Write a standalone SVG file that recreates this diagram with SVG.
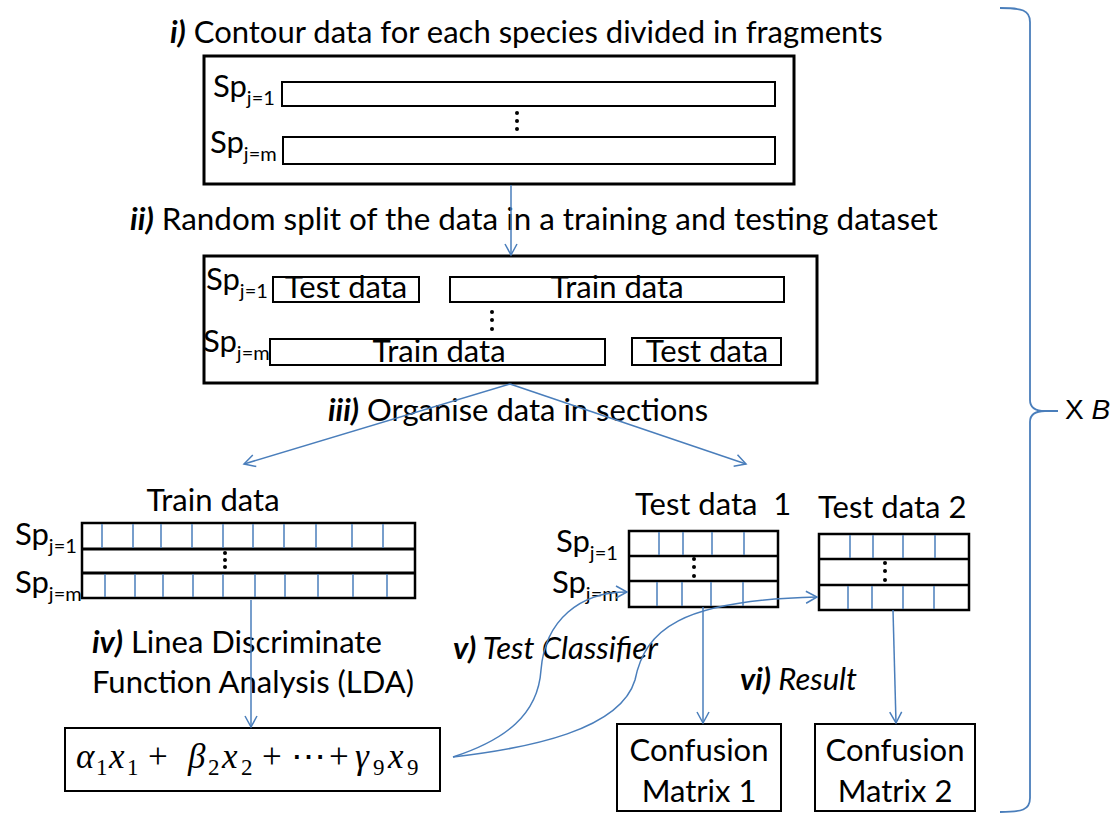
<svg xmlns="http://www.w3.org/2000/svg" width="1117" height="819" viewBox="0 0 1117 819">
<style>
.t{font-family:Lato,"Liberation Sans",sans-serif;font-size:31px;fill:#000}
.s{font-size:20px}
.bi{font-weight:bold;font-style:italic}
.it{font-style:italic}
.box{fill:#fff;stroke:#000;stroke-width:3}
.bar{fill:#fff;stroke:#000;stroke-width:2}
.tb{fill:#fff;stroke:#000;stroke-width:2.5}
.cell{stroke:#4a7ebb;stroke-width:1.5}
.dot{fill:#000}
.conn{fill:none;stroke:#4a7ebb;stroke-width:1.5;marker-end:url(#arr)}
.m{font-family:"Liberation Serif","DejaVu Serif",serif;font-size:35px;fill:#000}
.ms{font-size:23px}
</style>
<defs>
<marker id="arr" viewBox="0 0 14 14" refX="12" refY="7" markerWidth="14" markerHeight="14" markerUnits="userSpaceOnUse" orient="auto">
<path d="M1,1 L12,7 L1,13" fill="none" stroke="#4a7ebb" stroke-width="1.5"/>
</marker>
</defs>
<rect width="1117" height="819" fill="#fff"/>

<g id="step1">
<text class="t" x="170" y="43"><tspan class="bi">i)</tspan> Contour data for each species divided in fragments</text>
<rect class="box" x="204" y="56" width="590" height="128"/>
<text class="t" x="213" y="97">Sp<tspan class="s" dy="8">j=1</tspan></text>
<rect class="bar" x="282" y="82" width="493" height="24"/>
<circle class="dot" cx="517" cy="113" r="2"/><circle class="dot" cx="517" cy="121" r="2"/><circle class="dot" cx="517" cy="129" r="2"/>
<text class="t" x="210" y="153">Sp<tspan class="s" dy="8">j=m</tspan></text>
<rect class="bar" x="283" y="137" width="492" height="27"/>
</g>

<g id="step2">
<text class="t" x="130" y="230" style="font-size:31.4px"><tspan class="bi">ii)</tspan> Random split of the data in a training and testing dataset</text>
<rect class="box" x="204" y="256" width="613" height="127"/>
<text class="t" x="206" y="290">Sp<tspan class="s" dy="8">j=1</tspan></text>
<rect class="bar" x="273" y="277" width="146" height="25"/>
<text class="t" x="346" y="298" text-anchor="middle">Test data</text>
<rect class="bar" x="450" y="277" width="334" height="25"/>
<text class="t" x="617" y="298" text-anchor="middle">Train data</text>
<circle class="dot" cx="492" cy="312" r="2"/><circle class="dot" cx="492" cy="320" r="2"/><circle class="dot" cx="492" cy="329" r="2"/>
<text class="t" x="203" y="352">Sp<tspan class="s" dy="8">j=m</tspan></text>
<rect class="bar" x="270" y="339" width="335" height="26"/>
<text class="t" x="439" y="362" text-anchor="middle">Train data</text>
<rect class="bar" x="632" y="338" width="149" height="27"/>
<text class="t" x="707" y="362" text-anchor="middle">Test data</text>
</g>

<g id="step3label">
<text class="t" x="328" y="421"><tspan class="bi">iii)</tspan> Organise data in sections</text>
</g>

<g id="traindata">
<text class="t" x="213" y="511" text-anchor="middle">Train data</text>
<text class="t" x="15" y="545">Sp<tspan class="s" dy="8">j=1</tspan></text>
<text class="t" x="15" y="593">Sp<tspan class="s" dy="8">j=m</tspan></text>
<rect class="tb" x="82" y="523" width="333" height="75"/>
<line x1="82" y1="549" x2="415" y2="549" stroke="#000" stroke-width="3"/>
<line x1="82" y1="573" x2="415" y2="573" stroke="#000" stroke-width="3"/>
<g class="cell">
<line x1="102" y1="524" x2="102" y2="548"/><line x1="133" y1="524" x2="133" y2="548"/><line x1="161" y1="524" x2="161" y2="548"/><line x1="192" y1="524" x2="192" y2="548"/><line x1="223" y1="524" x2="223" y2="548"/><line x1="253" y1="524" x2="253" y2="548"/><line x1="284" y1="524" x2="284" y2="548"/><line x1="316" y1="524" x2="316" y2="548"/><line x1="352" y1="524" x2="352" y2="548"/><line x1="383" y1="524" x2="383" y2="548"/>
<line x1="105" y1="574" x2="105" y2="597"/><line x1="135" y1="574" x2="135" y2="597"/><line x1="163" y1="574" x2="163" y2="597"/><line x1="193" y1="574" x2="193" y2="597"/><line x1="223" y1="574" x2="223" y2="597"/><line x1="255" y1="574" x2="255" y2="597"/><line x1="285" y1="574" x2="285" y2="597"/><line x1="318" y1="574" x2="318" y2="597"/><line x1="353" y1="574" x2="353" y2="597"/><line x1="387" y1="574" x2="387" y2="597"/>
</g>
<circle class="dot" cx="225" cy="553" r="2"/><circle class="dot" cx="225" cy="560" r="2"/><circle class="dot" cx="225" cy="567" r="2"/>
</g>

<g id="testdata1">
<text class="t" x="635" y="515" xml:space="preserve">Test data  1</text>
<text class="t" x="556" y="552">Sp<tspan class="s" dy="8">j=1</tspan></text>
<text class="t" x="552" y="593">Sp<tspan class="s" dy="8">j=m</tspan></text>
<rect class="tb" x="629" y="531" width="149" height="76"/>
<line x1="629" y1="556" x2="778" y2="556" stroke="#000" stroke-width="2.5"/>
<line x1="629" y1="581" x2="778" y2="581" stroke="#000" stroke-width="2.5"/>
<g class="cell">
<line x1="659" y1="532" x2="659" y2="555"/><line x1="683" y1="532" x2="683" y2="555"/><line x1="712" y1="532" x2="712" y2="555"/><line x1="744" y1="532" x2="744" y2="555"/>
<line x1="657" y1="582" x2="657" y2="606"/><line x1="682" y1="582" x2="682" y2="606"/><line x1="711" y1="582" x2="711" y2="606"/><line x1="743" y1="582" x2="743" y2="606"/>
</g>
<circle class="dot" cx="694" cy="559" r="2"/><circle class="dot" cx="694" cy="567" r="2"/><circle class="dot" cx="694" cy="576" r="2"/>
</g>

<g id="testdata2">
<text class="t" x="818" y="518">Test data 2</text>
<rect class="tb" x="819" y="534" width="150" height="76"/>
<line x1="819" y1="559" x2="969" y2="559" stroke="#000" stroke-width="2.5"/>
<line x1="819" y1="585" x2="969" y2="585" stroke="#000" stroke-width="2.5"/>
<g class="cell">
<line x1="850" y1="535" x2="850" y2="558"/><line x1="873" y1="535" x2="873" y2="558"/><line x1="903" y1="535" x2="903" y2="558"/><line x1="935" y1="535" x2="935" y2="558"/>
<line x1="848" y1="586" x2="848" y2="609"/><line x1="872" y1="586" x2="872" y2="609"/><line x1="903" y1="586" x2="903" y2="609"/><line x1="934" y1="586" x2="934" y2="609"/>
</g>
<circle class="dot" cx="885" cy="563" r="2"/><circle class="dot" cx="885" cy="571" r="2"/><circle class="dot" cx="885" cy="580" r="2"/>
</g>

<g id="lda">
<text class="t" x="92" y="653"><tspan class="bi">iv)</tspan> Linea Discriminate</text>
<text class="t" x="92" y="693">Function Analysis (LDA)</text>
<rect class="bar" x="65" y="728" width="375" height="63"/>
<text class="m" y="768"><tspan class="it" x="76">α</tspan><tspan class="ms" x="96" y="775">1</tspan><tspan class="it" x="109" y="768">x</tspan><tspan class="ms" x="127" y="775">1</tspan><tspan x="148" y="768">+</tspan><tspan class="it" x="188">β</tspan><tspan class="ms" x="208" y="775">2</tspan><tspan class="it" x="222" y="768">x</tspan><tspan class="ms" x="241" y="775">2</tspan><tspan x="262" y="768">+</tspan><tspan x="291">⋯</tspan><tspan x="329">+</tspan><tspan class="it" x="355">γ</tspan><tspan class="ms" x="373" y="775">9</tspan><tspan class="it" x="388" y="768">x</tspan><tspan class="ms" x="407" y="775">9</tspan></text>
</g>

<g id="labels">
<text class="t it" x="453" y="659"><tspan class="bi">v)</tspan> Test Classifier</text>
<text class="t it" x="740" y="690"><tspan class="bi">vi)</tspan> Result</text>
</g>

<g id="cm1">
<rect class="bar" x="617" y="724" width="164" height="87"/>
<text class="t" x="699" y="761" text-anchor="middle">Confusion</text>
<text class="t" x="699" y="802" text-anchor="middle">Matrix 1</text>
</g>
<g id="cm2">
<rect class="bar" x="815" y="724" width="160" height="87"/>
<text class="t" x="895" y="761" text-anchor="middle">Confusion</text>
<text class="t" x="895" y="802" text-anchor="middle">Matrix 2</text>
</g>

<g id="repeat">
<path d="M1000,8 C1022,8 1030,10 1030,22 L1030,400 C1030,407 1035,411 1045,411 L1058,411 M1045,411 C1035,411 1030,415 1030,422 L1030,798 C1030,810 1022,812 1000,812" fill="none" stroke="#4a7ebb" stroke-width="1.8"/>
<text x="1065" y="419" font-family="Liberation Sans,Arial,sans-serif" font-size="28">X <tspan font-style="italic">B</tspan></text>
</g>

<g id="connectors">
<line class="conn" x1="511" y1="185" x2="511" y2="255"/>
<line class="conn" x1="510" y1="384" x2="244" y2="464"/>
<line class="conn" x1="510" y1="384" x2="746" y2="464"/>
<line class="conn" x1="251" y1="600" x2="251" y2="727"/>
<path class="conn" d="M453,757 C505,740 538,715 541,670 C545,620 580,592 627,592"/>
<path class="conn" d="M453,757 C530,748 620,730 635,680 C645,630 680,600 817,597"/>
<line class="conn" x1="703" y1="607" x2="703" y2="723"/>
<line class="conn" x1="893" y1="610" x2="896" y2="723"/>
</g>
</svg>
